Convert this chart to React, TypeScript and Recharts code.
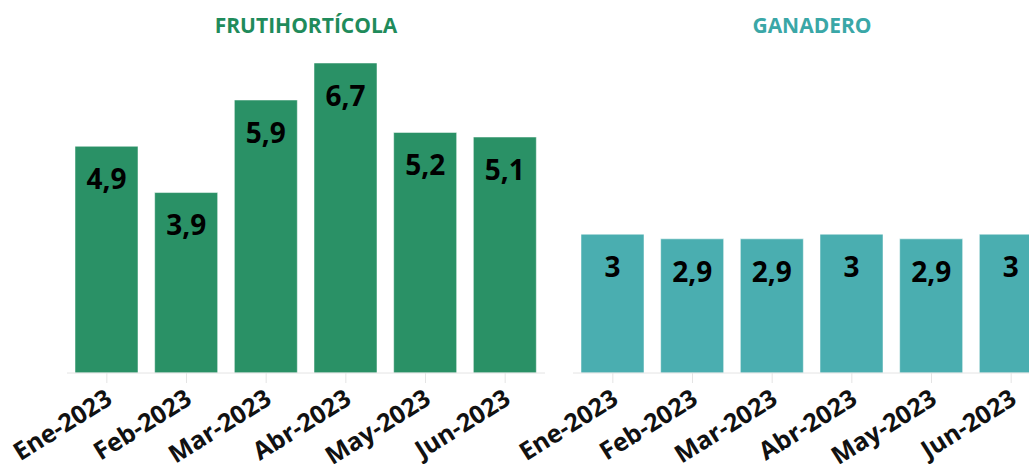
import React from 'react';
import { BarChart, Bar, XAxis, YAxis, LabelList } from 'recharts';

const months = ['Ene-2023', 'Feb-2023', 'Mar-2023', 'Abr-2023', 'May-2023', 'Jun-2023'];
const frutihorticola = [4.9, 3.9, 5.9, 6.7, 5.2, 5.1];
const ganadero = [3, 2.9, 2.9, 3, 2.9, 3];

const FONT = '"Open Sans", "Noto Sans", sans-serif';

const fmt = (v: any) => String(v).replace('.', ',');

const AngledTick = (props: any) => {
    const { x, y, payload } = props;
    return (
        <g transform={`translate(${x},${y})`}>
            <text
                x={7}
                y={18}
                textAnchor="end"
                transform="rotate(-32 7 18)"
                fill="#111"
                fontSize={25}
                fontWeight={700}
                fontFamily={FONT}
            >
                {payload.value}
            </text>
        </g>
    );
};

function Panel({ title, values, color, titleColor, left }: { title: string; values: number[]; color: string; titleColor: string; left: number }) {
    const data = months.map((m, i) => ({ month: m, value: values[i] }));
    return (
        <div style={{ position: 'absolute', left, top: 0, width: 560, height: 464 }}>
            <div
                style={{
                    position: 'absolute',
                    left: 67,
                    width: 478,
                    top: 10,
                    textAlign: 'center',
                    fontFamily: FONT,
                    fontWeight: 700,
                    fontSize: 21,
                    color: titleColor,
                    lineHeight: '30px',
                }}
            >
                {title}
            </div>
            <BarChart width={560} height={464} data={data} margin={{ top: 63, right: 15, left: 67, bottom: 0 }} style={{ overflow: 'visible' }}>
                <XAxis
                    dataKey="month"
                    height={91}
                    interval={0}
                    tick={<AngledTick />}
                    tickSize={10}
                    axisLine={{ stroke: '#e4e4e4' }}
                    tickLine={{ stroke: '#e4e4e4' }}
                />
                <YAxis hide domain={[0, 6.7]} />
                <Bar dataKey="value" fill={color} stroke="#ffffff" strokeOpacity={0.5} barSize={63} isAnimationActive={false}>
                    <LabelList
                        dataKey="value"
                        position="insideTop"
                        offset={23}
                        formatter={fmt}
                        fill="#000"
                        fontSize={28}
                        fontWeight={700}
                        fontFamily={FONT}
                    />
                </Bar>
            </BarChart>
        </div>
    );
}

export default function App() {
    return (
        <div style={{ position: 'fixed', left: 0, top: 0, width: 1029, height: 464, overflow: 'hidden', background: '#fff' }}>
            <Panel title="FRUTIHORTÍCOLA" values={frutihorticola} color="#2a9166" titleColor="#1f8b5b" left={0} />
            <Panel title="GANADERO" values={ganadero} color="#4aaeb0" titleColor="#3aa7a7" left={506} />
        </div>
    );
}
